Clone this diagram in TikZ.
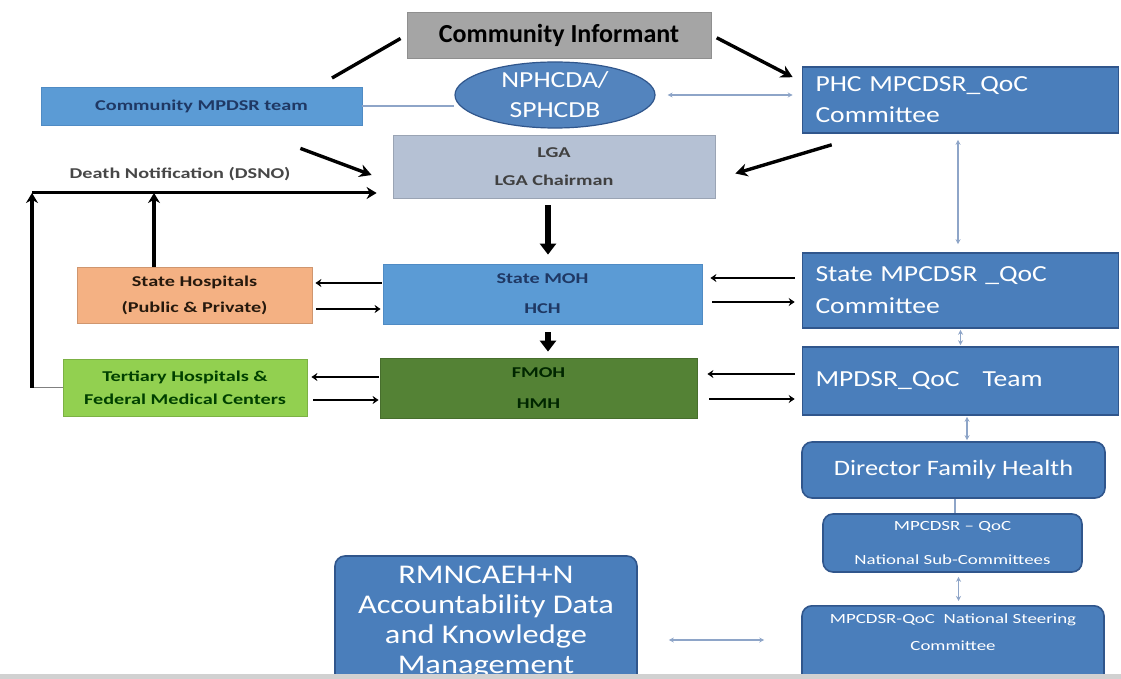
\documentclass[tikz,border=0pt]{standalone}
\usepackage{fontspec}
\setmainfont{Carlito}
\newfontfamily\wfont[FakeStretch=1.2]{Carlito}
\newfontfamily\sfont[FakeStretch=1.35]{Carlito}
\usetikzlibrary{arrows.meta,shapes.geometric,calc}
\definecolor{infgray}{HTML}{A5A5A5}
\definecolor{infedge}{HTML}{8F8F8F}
\definecolor{midblue}{HTML}{5B9BD5}
\definecolor{midedge}{HTML}{4F8BC4}
\definecolor{deepblue}{HTML}{4A7EBB}
\definecolor{deepedge}{HTML}{30568C}
\definecolor{lgafill}{HTML}{B5C1D4}
\definecolor{peach}{HTML}{F4B183}
\definecolor{lime}{HTML}{92D050}
\definecolor{moss}{HTML}{548235}
\definecolor{navytxt}{HTML}{1F3864}
\definecolor{linkblue}{HTML}{8EA5C8}
\tikzset{
  sqbox/.style={rectangle, inner sep=0pt, line width=0.8pt},
  deepbox/.style={sqbox, line width=1.6pt, draw=deepedge, fill=deepblue, text=white,
    font=\wfont\fontsize{23}{31}\selectfont, align=left, text width=290pt, inner xsep=13pt},
  rndbox/.style={rectangle, rounded corners=10pt, inner sep=0pt, line width=1.6pt,
    draw=deepedge, fill=deepblue, text=white, align=center},
  smalltxt/.style={font=\sfont\bfseries\fontsize{15}{28}\selectfont, align=center},
  heavyln/.style={line width=3.4pt},
  heavyarr/.style={-{Stealth[length=12pt,width=13pt]}, line width=3.4pt},
  notearr/.style={-{Stealth[length=10pt,width=12pt]}, line width=3pt},
  noteup/.style={-{Stealth[length=10pt,width=12pt]}, line width=4pt},
  pairarr/.style={-{Stealth[length=6pt,width=8pt]}, line width=2.8pt},
  downarr/.style={-{Triangle[length=11pt,width=16pt]}, line width=6pt},
  linkarr/.style={{Stealth[length=5pt,width=5pt]}-{Stealth[length=5pt,width=5pt]}, line width=1.2pt, linkblue},
  linkln/.style={line width=1.2pt, linkblue},
}

\begin{document}
\begin{tikzpicture}[x=1pt,y=-1pt]
  \clip (0,0) rectangle (1121,679);
  \fill[white] (0,0) rectangle (1121,679);
  % --- top row ---
  \node[sqbox, draw=infedge, fill=infgray, minimum width=304, minimum height=46,
    font=\bfseries\fontsize{26}{30}\selectfont] (inf) at (559,35) {Community Informant};
  \node[ellipse, draw=deepedge, fill=deepblue!95!white, line width=1.2pt, inner sep=0pt,
    minimum width=200, minimum height=66, text=white, align=center,
    font=\wfont\fontsize{23}{30}\selectfont] (nph) at (555,95) {NPHCDA/\\SPHCDB};
  \node[sqbox, draw=midedge, fill=midblue, minimum width=321, minimum height=38,
    smalltxt, text=navytxt] (cmt) at (201.5,106) {Community MPDSR team};
  \node[deepbox, minimum height=66] (phc) at (960.5,100) {PHC MPCDSR\_QoC\\Committee};
  \node[sqbox, draw=lgafill!85!black, fill=lgafill, minimum width=322, minimum height=63,
    smalltxt, text=black!75] (lga) at (554,166.5) {LGA\\LGA Chairman};
  \coordinate (infl) at (332,78);
  \draw[heavyln, shorten <=7pt] (inf.west) -- (infl);
  \draw[heavyarr, shorten <=6pt] (inf.east) -- ([shift={(-9,11)}]phc.north west);
  \draw[linkln] (cmt.east) -- (nph.west |- cmt.east);
  \draw[linkarr, shorten <=12pt, shorten >=9pt] (nph.east) -- (nph.east -| phc.west);
  \draw[heavyarr] ([shift={(-62,23)}]cmt.south east) -- ([shift={(-21,8.5)}]lga.west);
  \draw[heavyarr] ([shift={(30,11)}]phc.south west) -- ([shift={(20,7)}]lga.east);
  % --- death notification ---
  \coordinate (dn) at (32,193);
  \node[smalltxt, text=black!72, inner sep=0pt] (dnote) at (180,174) {Death Notification (DSNO)};
  \draw[notearr, shorten >=16pt] (dn) -- (lga.west |- dn);
  % --- state level ---
  \node[sqbox, draw=peach!85!black, fill=peach, minimum width=235, minimum height=56,
    smalltxt, font=\sfont\bfseries\fontsize{15}{26}\selectfont, text=black!80!brown]
    (sh) at (194.5,295) {State Hospitals\\(Public \& Private)};
  \node[sqbox, draw=midedge, fill=midblue, minimum width=319, minimum height=60,
    smalltxt, font=\sfont\bfseries\fontsize{15}{30}\selectfont, text=navytxt]
    (moh) at (542.5,294) {State MOH\\HCH};
  \node[deepbox, minimum height=75, font=\wfont\fontsize{23}{32}\selectfont]
    (smp) at (960.5,290.5) {State MPCDSR \_QoC\\Committee};
  \draw[downarr, shorten <=7pt, shorten >=9pt] ([xshift=-6pt]lga.south) -- ([xshift=-6pt]lga.south |- moh.north);
  \draw[noteup] ([xshift=-40.5pt]sh.north) -- ([xshift=-40.5pt]sh.north |- dn);
  \draw[pairarr, shorten <=1pt, shorten >=3pt] ($(moh.west)+(0,-11)$) -- ($(sh.east)+(0,-12)$);
  \draw[pairarr, shorten <=4pt, shorten >=2pt] ($(sh.east)+(0,14)$) -- ($(moh.west)+(0,15)$);
  \draw[pairarr, shorten <=7pt, shorten >=8pt] ($(smp.west)+(0,-12.5)$) -- ($(moh.east)+(0,-16)$);
  \draw[pairarr, shorten <=10pt, shorten >=7pt] ($(moh.east)+(0,8)$) -- ($(smp.west)+(0,11.5)$);
  \draw[linkarr, shorten <=6pt, shorten >=8pt] ([xshift=-2.5pt]phc.south) -- ([xshift=-2.5pt]smp.north);
  % --- federal level ---
  \node[sqbox, draw=lime!85!black, fill=lime, minimum width=244, minimum height=57,
    smalltxt, font=\sfont\bfseries\fontsize{15}{23}\selectfont, text=green!25!black]
    (tert) at (185,387.5) {Tertiary Hospitals \&\\Federal Medical Centers};
  \node[sqbox, draw=moss!85!black, fill=moss, minimum width=317, minimum height=60,
    smalltxt, font=\sfont\bfseries\fontsize{15}{31}\selectfont, text=green!15!black]
    (fmoh) at (538.5,388) {FMOH\\HMH};
  \node[deepbox, minimum height=68] (team) at (960.5,381) {MPDSR\_QoC\ \ \ Team};
  \draw[downarr, shorten <=8pt, shorten >=6pt] ([xshift=5.5pt]moh.south) -- ([xshift=5.5pt]moh.south |- fmoh.north);
  \draw[gray, line width=1.2pt] (tert.west) -- (tert.west -| dn);
  \draw[noteup] (tert.west -| dn) -- (dn);
  \draw[pairarr, shorten <=1pt, shorten >=4pt] ($(fmoh.west)+(0,-11)$) -- ($(tert.east)+(0,-10.5)$);
  \draw[pairarr, shorten <=6pt, shorten >=1pt] ($(tert.east)+(0,12.5)$) -- ($(fmoh.west)+(0,12)$);
  \draw[pairarr, shorten <=7pt, shorten >=10pt] ($(team.west)+(0,-7)$) -- ($(fmoh.east)+(0,-14)$);
  \draw[pairarr, shorten <=12pt, shorten >=7pt] ($(fmoh.east)+(0,11)$) -- ($(team.west)+(0,18)$);
  \draw[linkarr, shorten <=1pt, shorten >=1pt] (smp.south) -- (team.north);
  % --- national level ---
  \node[rndbox, minimum width=303, minimum height=56,
    font=\wfont\fontsize{22}{28}\selectfont] (dfh) at (953.5,470) {Director Family Health};
  \node[rndbox, minimum width=259, minimum height=58,
    font=\sfont\fontsize{14}{34}\selectfont] (sub) at (952.5,543) {MPCDSR – QoC\\National Sub-Committees};
  \node[rndbox, anchor=north, font=\sfont\fontsize{14}{27}\selectfont] (nsc) at (953,605)
    {\begin{minipage}[t][100pt][t]{302pt}\centering\vspace{8pt}MPCDSR-QoC\ \ National Steering\\Committee\end{minipage}};
  \node[rndbox, minimum width=302, minimum height=132,
    font=\wfont\fontsize{27}{30}\selectfont] (rmn) at (486,622)
    {RMNCAEH+N\\Accountability Data\\and Knowledge\\Management};
  \draw[linkarr, shorten <=1pt, shorten >=1pt] ([xshift=13.5pt]dfh.north) -- ([xshift=13.5pt]dfh.north |- team.south);
  \draw[linkln] ([xshift=1.5pt]dfh.south) -- ([xshift=1.5pt]dfh.south |- sub.north);
  \draw[linkarr, shorten <=4pt, shorten >=4pt] ([xshift=6pt]sub.south) -- ([xshift=6pt]sub.south |- nsc.north);
  \coordinate (ry) at (0,640);
  \draw[linkarr, shorten <=31pt, shorten >=37pt] (rmn.east |- ry) -- (nsc.west |- ry);
  % bottom edge
  \fill[black!18] (0,674) rectangle (1121,679);
\end{tikzpicture}
\end{document}
